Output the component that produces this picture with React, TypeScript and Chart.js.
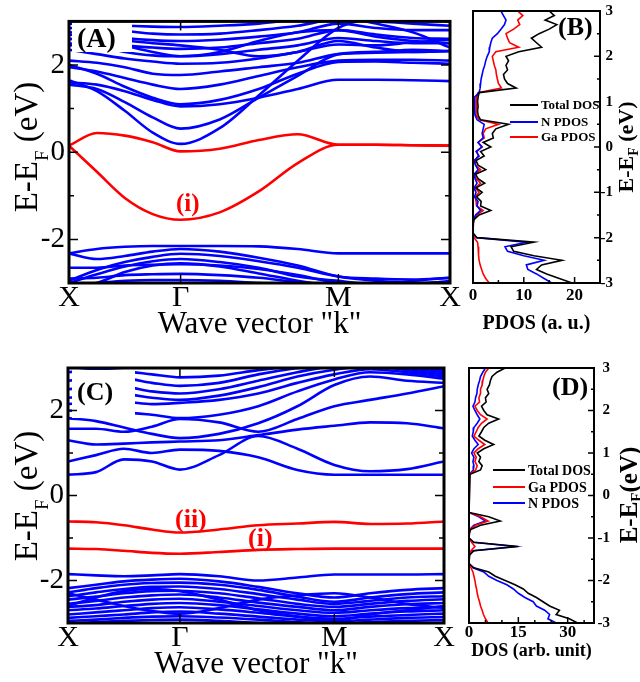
import React, { useEffect, useRef } from "react";
import { Chart, registerables } from "chart.js";

Chart.register(...registerables);

const SERIF = '"Liberation Serif", "Times New Roman", serif';
const BLUE = "#0000ff";
const RED = "#ff0000";
const BLACK = "#000000";

// ---------------- Band structure: common ----------------
const kLabels = ["X", "Γ", "M", "X"];
const bandTickValues = [-2, 0, 2];
const bandMinorTicks = [-3, -1, 1, 3];

// ---------------- Panel A ----------------
const kPathA = [0, 0.25, 0.5, 0.75, 1, 1.35, 1.7, 2.05, 2.414, 2.75, 3.08, 3.414];
const kSymA = [0, 1, 2.414, 3.414];

const redBandsA = [
  [0.15, -0.45, -1.05, -1.42, -1.55, -1.38, -0.9, -0.25, 0.17, 0.17, 0.16, 0.15],
  [0.15, 0.44, 0.38, 0.23, 0.02, 0.08, 0.28, 0.41, 0.17, 0.17, 0.16, 0.15],
];

const blueBandsA = [
  [1.65, 1.4, 0.95, 0.45, 0.19, 0.55, 1.3, 2.1, 2.85, 3.1, 3.2, 3.2],
  [1.55, 1.45, 1.15, 0.8, 0.54, 0.75, 1.25, 1.75, 2.25, 2.3, 2.35, 2.32],
  [1.6, 1.55, 1.4, 1.2, 1.05, 1.1, 1.25, 1.45, 1.66, 1.66, 1.65, 1.63],
  [2.0, 1.8, 1.5, 1.25, 1.1, 1.2, 1.45, 1.8, 2.07, 2.08, 2.05, 2.03],
  [1.95, 1.85, 1.7, 1.55, 1.45, 1.55, 1.75, 1.95, 2.1, 2.12, 2.12, 2.1],
  [2.1, 2.05, 1.95, 1.8, 1.77, 1.85, 1.95, 2.05, 2.25, 2.28, 2.3, 2.32],
  [2.35, 2.25, 2.15, 2.08, 2.03, 2.05, 2.15, 2.3, 2.47, 2.45, 2.52, 2.58],
  [2.5, 2.42, 2.3, 2.22, 2.2, 2.25, 2.35, 2.45, 2.62, 2.55, 2.5, 2.5],
  [2.6, 2.55, 2.45, 2.4, 2.37, 2.4, 2.5, 2.6, 2.8, 2.7, 2.62, 2.6],
  [2.75, 2.7, 2.62, 2.57, 2.55, 2.58, 2.65, 2.75, 2.95, 2.85, 2.8, 2.8],
  [2.85, 2.82, 2.78, 2.72, 2.7, 2.72, 2.8, 2.9, 3.05, 3.0, 2.95, 2.9],
  [2.95, 2.92, 2.9, 2.88, 2.87, 2.9, 2.95, 3.05, 3.1, 2.95, 2.75, 2.4],
  [2.45, 2.5, 2.55, 2.5, 2.45, 2.35, 2.2, 2.3, 2.55, 2.4, 2.3, 2.32],
  [2.7, 2.6, 2.45, 2.3, 2.2, 2.3, 2.55, 2.75, 2.8, 2.65, 2.55, 2.5],
  [-2.32, -2.22, -2.17, -2.15, -2.15, -2.15, -2.16, -2.22, -2.32, -2.32, -2.32, -2.32],
  [-2.32, -2.45, -2.38, -2.28, -2.22, -2.28, -2.42, -2.6, -2.85, -2.9, -2.92, -2.88],
  [-2.95, -2.7, -2.52, -2.4, -2.33, -2.38, -2.5, -2.65, -2.85, -2.95, -3.0, -2.98],
  [-3.0, -2.8, -2.62, -2.5, -2.45, -2.52, -2.65, -2.85, -2.95, -3.05, -3.1, -3.1],
  [-2.65, -2.65, -2.6, -2.58, -2.57, -2.6, -2.68, -2.82, -3.0, -3.05, -2.95, -2.88],
  [-2.9, -2.88, -2.82, -2.8, -2.79, -2.82, -2.88, -2.98, -3.05, -3.1, -3.1, -3.05],
  [-3.05, -3.0, -2.95, -2.93, -2.93, -2.95, -3.0, -3.05, -3.1, -3.1, -3.05, -2.95],
  [-3.1, -3.0, -2.75, -2.6, -2.55, -2.62, -2.78, -2.95, -3.1, -3.2, -3.2, -3.2],
];

// ---------------- Panel C ----------------
const kPathC = [0, 0.25, 0.5, 0.75, 1, 1.35, 1.7, 2.05, 2.38, 2.7, 3.03, 3.36];
const kSymC = [0, 1, 2.38, 3.36];

const redBandsC = [
  [-0.61, -0.63, -0.7, -0.8, -0.87, -0.8, -0.7, -0.66, -0.62, -0.67, -0.66, -0.61],
  [-1.25, -1.26, -1.3, -1.35, -1.37, -1.33, -1.28, -1.26, -1.25, -1.25, -1.25, -1.25],
];

const blueBandsC = [
  [0.49, 0.55, 0.85, 0.8, 0.61, 0.95, 1.4, 1.1, 0.72, 0.57, 0.62, 0.8],
  [0.8, 0.95, 1.1, 1.0, 1.08, 1.05, 0.9, 0.6, 0.49, 0.49, 0.49, 0.49],
  [1.3, 1.2, 1.22, 1.25, 1.27, 1.3, 1.42, 1.55, 1.64, 1.72, 1.7, 1.58],
  [1.57, 1.57, 1.5, 1.62, 1.8, 1.72, 1.5, 1.8, 2.1, 2.25, 2.4, 2.57],
  [1.82, 1.75, 1.6, 1.45, 1.35, 1.45, 1.7, 2.1, 2.6, 2.8, 2.7, 2.65],
  [2.0, 1.95, 1.95, 1.9, 1.82, 1.9, 2.1, 2.45, 2.73, 2.9, 2.85, 2.75],
  [2.15, 2.2, 2.2, 2.15, 2.18, 2.25, 2.4, 2.65, 2.85, 2.97, 2.9, 2.8],
  [2.3, 2.35, 2.38, 2.3, 2.25, 2.35, 2.55, 2.8, 2.96, 3.05, 2.95, 2.85],
  [2.5, 2.55, 2.55, 2.45, 2.4, 2.5, 2.7, 2.9, 3.05, 3.1, 3.0, 2.9],
  [2.7, 2.75, 2.75, 2.65, 2.58, 2.65, 2.85, 3.0, 3.1, 3.1, 3.05, 2.95],
  [2.9, 2.95, 2.92, 2.85, 2.78, 2.82, 2.95, 3.05, 3.1, 3.1, 3.1, 3.05],
  [-1.85, -1.88, -1.9, -1.88, -1.85, -1.9, -2.0, -1.93, -1.86, -1.86, -1.86, -1.85],
  [-2.18, -2.1, -2.02, -1.98, -1.96, -2.02, -2.15, -2.3, -2.4, -2.3, -2.22, -2.18],
  [-2.28, -2.18, -2.1, -2.06, -2.05, -2.1, -2.22, -2.38, -2.5, -2.4, -2.32, -2.28],
  [-2.37, -2.28, -2.2, -2.15, -2.14, -2.2, -2.32, -2.45, -2.55, -2.48, -2.4, -2.37],
  [-2.45, -2.38, -2.3, -2.25, -2.24, -2.3, -2.42, -2.55, -2.62, -2.55, -2.48, -2.44],
  [-2.55, -2.48, -2.4, -2.35, -2.33, -2.4, -2.52, -2.62, -2.7, -2.62, -2.56, -2.53],
  [-2.62, -2.58, -2.5, -2.45, -2.43, -2.5, -2.6, -2.7, -2.76, -2.7, -2.65, -2.62],
  [-2.7, -2.66, -2.6, -2.55, -2.53, -2.58, -2.68, -2.78, -2.84, -2.78, -2.73, -2.7],
  [-2.8, -2.75, -2.7, -2.65, -2.63, -2.68, -2.76, -2.85, -2.9, -2.85, -2.81, -2.78],
  [-2.88, -2.84, -2.8, -2.75, -2.73, -2.78, -2.85, -2.92, -2.96, -2.92, -2.88, -2.86],
  [-2.95, -2.92, -2.88, -2.85, -2.84, -2.87, -2.92, -2.98, -3.02, -2.98, -2.95, -2.93],
  [-3.02, -2.98, -2.95, -2.93, -2.92, -2.95, -3.0, -3.05, -3.08, -3.05, -3.02, -3.0],
  [-2.3, -2.45, -2.6, -2.72, -2.78, -2.65, -2.45, -2.35, -2.3, -2.4, -2.55, -2.65],
  [-2.6, -2.4, -2.25, -2.2, -2.25, -2.45, -2.7, -2.85, -2.95, -2.8, -2.7, -2.6],
];

// ---------------- DOS panels (B, D) ----------------
const energyGrid = [
  3.0, 2.9, 2.8, 2.7, 2.6, 2.5, 2.4, 2.3, 2.2, 2.1,
  2.0, 1.9, 1.8, 1.7, 1.6, 1.5, 1.4, 1.3, 1.2, 1.1,
  1.0, 0.9, 0.8, 0.7, 0.6, 0.5, 0.4, 0.3, 0.2, 0.1,
  0.0, -0.1, -0.2, -0.3, -0.4, -0.5, -0.6, -0.7, -0.8, -0.9,
  -1.0, -1.1, -1.2, -1.3, -1.4, -1.5, -1.6, -1.7, -1.8, -1.9,
  -2.0, -2.1, -2.2, -2.3, -2.4, -2.5, -2.6, -2.7, -2.8, -2.9,
  -3.0,
];

const totalDosB = [
  15.0, 16.0, 14.2, 16.5, 15.0, 13.0, 11.5, 12.5, 13.5, 9.0,
  6.5, 7.0, 6.5, 6.8, 6.0, 6.2, 6.8, 8.5, 1.2, 1.0,
  0.9, 1.0, 0.9, 1.0, 1.5, 7.0, 4.5, 3.8, 4.0, 2.0,
  3.5, 1.5, 2.2, 0.6, 1.0, 2.5, 0.5, 1.0, 2.3, 0.6,
  1.8, 0.7, 1.6, 1.5, 3.5, 1.2, 0.2, 0.0, 0.0, 0.0,
  0.8, 12.0, 7.5, 8.0, 12.0, 17.5, 13.5, 12.5, 14.5, 17.0,
  19.5,
];
const nPdosB = [
  5.5, 6.0, 6.5, 6.2, 5.5, 4.8, 3.8, 3.5, 3.3, 3.2,
  2.8, 2.5, 2.3, 2.0, 1.8, 1.6, 1.5, 1.4, 1.2, 0.3,
  0.3, 0.3, 0.3, 0.4, 0.8, 2.2, 2.0, 1.8, 2.0, 1.0,
  1.8, 0.6, 1.2, 0.2, 0.5, 1.0, 0.2, 0.4, 0.8, 0.2,
  0.6, 0.3, 1.0, 0.8, 1.5, 0.5, 0.1, 0.0, 0.0, 0.0,
  0.7, 10.5, 6.3, 6.8, 10.0, 14.0, 10.5, 10.8, 12.5, 14.0,
  15.5,
];
const gaPdosB = [
  8.8, 9.8, 8.8, 9.2, 8.0, 6.5, 6.8, 7.2, 9.0, 4.5,
  3.8, 4.0, 4.2, 4.5, 4.6, 4.8, 5.0, 5.6, 1.0, 0.7,
  0.6, 0.6, 0.6, 0.6, 1.2, 5.0, 2.5, 2.0, 2.2, 1.0,
  1.7, 0.8, 1.0, 0.4, 0.5, 1.5, 0.3, 0.6, 1.5, 0.4,
  1.2, 0.4, 0.6, 0.7, 2.0, 0.7, 0.1, 0.0, 0.0, 0.0,
  0.2, 0.9, 1.0, 1.1, 1.1, 1.2, 1.4, 1.7, 2.0, 2.5,
  3.2,
];

const totalDosD = [
  11.0, 8.5, 7.0, 6.5, 6.2, 5.5, 6.0, 5.0, 5.2, 3.8,
  4.5, 5.5, 9.0, 6.0, 4.5, 3.8, 3.0, 4.8, 7.5, 4.5,
  2.5, 3.5, 3.0, 4.0, 3.5, 0.3, 0.0, 0.0, 0.0, 0.0,
  0.0, 0.0, 0.0, 0.0, 0.2, 6.0, 9.5, 3.5, 0.5, 0.0,
  0.0, 1.5, 15.0, 1.5, 0.2, 0.0, 0.0, 1.5, 6.0, 8.0,
  11.0, 14.0, 16.5, 18.0, 20.5, 22.5, 24.5, 27.5, 26.5, 30.5,
  33.0,
];
const gaPdosD = [
  6.0, 5.0, 4.5, 4.2, 4.0, 3.5, 3.5, 3.0, 3.2, 1.8,
  2.5, 3.5, 5.5, 3.8, 2.8, 2.2, 1.5, 3.0, 4.8, 2.8,
  1.5, 2.2, 1.8, 2.5, 2.0, 0.2, 0.0, 0.0, 0.0, 0.0,
  0.0, 0.0, 0.0, 0.0, 0.1, 3.5, 5.8, 2.0, 0.3, 0.0,
  0.0, 0.8, 1.8, 0.6, 0.1, 0.0, 0.0, 0.6, 1.2, 1.5,
  1.8, 2.0, 2.3, 2.5, 2.8, 3.2, 3.5, 4.0, 4.4, 5.0,
  5.8,
];
const nPdosD = [
  5.0, 4.2, 3.5, 3.2, 2.8, 2.5, 2.4, 2.0, 1.8, 1.2,
  1.8, 2.5, 3.3, 2.5, 1.5, 1.3, 1.0, 1.8, 2.8, 1.5,
  0.8, 1.5, 1.2, 1.5, 1.3, 0.1, 0.0, 0.0, 0.0, 0.0,
  0.0, 0.0, 0.0, 0.0, 0.1, 3.0, 5.0, 1.5, 0.2, 0.0,
  0.0, 1.2, 14.0, 1.2, 0.1, 0.0, 0.0, 1.2, 4.5, 6.0,
  8.5, 11.5, 13.5, 15.0, 17.0, 19.5, 20.5, 23.0, 24.5, 24.0,
  26.5,
];

const legendLabelsB = ["Total DOS", "N PDOS", "Ga PDOS"];
const legendColorsB = [BLACK, BLUE, RED];
const legendLabelsD = ["Total DOS", "Ga PDOS", "N PDOS"];
const legendColorsD = [BLACK, RED, BLUE];

const dosTicksB = [0, 10, 20];
const dosTicksD = [0, 15, 30];
const energyTicks = [-3, -2, -1, 0, 1, 2, 3];
const energyMinor = [-2.5, -1.5, -0.5, 0.5, 1.5, 2.5];

// ---------------- drawing helpers ----------------
type Seg = { t: string; sub?: boolean };
type TextItem = {
  x: number;
  y: number;
  segs: Seg[];
  size: number;
  bold?: boolean;
  color?: string;
  rot?: number;
  align?: "left" | "center";
  subSize?: number;
  subDrop?: number;
};
type Deco = {
  ox: number;
  oy: number;
  frame: number;
  boxes?: number[][];
  yTicks: { v: number; len: number }[];
  xTicks: { v: number; len: number }[];
  tickLeft: boolean;
  tickRight: boolean;
  tickTop: boolean;
  tickBottom: boolean;
  texts: TextItem[];
  legend?: { x0: number; x1: number; tx: number; size: number; labels: string[]; colors: string[]; ys: number[] };
};

function drawRich(ctx: CanvasRenderingContext2D, it: TextItem, ox: number, oy: number) {
  ctx.save();
  ctx.translate(it.x - ox, it.y - oy);
  if (it.rot) ctx.rotate(it.rot);
  const w = it.bold ? "bold " : "";
  const mainFont = `${w}${it.size}px ${SERIF}`;
  const subFont = `${w}${it.subSize ?? it.size * 0.6}px ${SERIF}`;
  let total = 0;
  const widths = it.segs.map((s) => {
    ctx.font = s.sub ? subFont : mainFont;
    const m = ctx.measureText(s.t).width;
    total += m;
    return m;
  });
  let cx = it.align === "left" ? 0 : -total / 2;
  ctx.fillStyle = it.color ?? BLACK;
  ctx.textBaseline = "alphabetic";
  ctx.textAlign = "left";
  it.segs.forEach((s, i) => {
    ctx.font = s.sub ? subFont : mainFont;
    ctx.fillText(s.t, cx, s.sub ? it.subDrop ?? 0 : 0);
    cx += widths[i];
  });
  ctx.restore();
}

function decoPlugin(d: Deco) {
  return {
    id: "deco",
    afterDatasetsDraw(chart: any) {
      const { ctx, chartArea: a, scales } = chart;
      const xs = scales.x;
      const ys = scales.y;
      ctx.save();
      ctx.fillStyle = "#ffffff";
      (d.boxes || []).forEach((b) => ctx.fillRect(b[0] - d.ox, b[1] - d.oy, b[2], b[3]));
      ctx.strokeStyle = BLACK;
      ctx.lineWidth = 1.5;
      ctx.beginPath();
      d.yTicks.forEach((t) => {
        const py = ys.getPixelForValue(t.v);
        if (d.tickLeft) {
          ctx.moveTo(a.left, py);
          ctx.lineTo(a.left + t.len, py);
        }
        if (d.tickRight) {
          ctx.moveTo(a.right, py);
          ctx.lineTo(a.right - t.len, py);
        }
      });
      d.xTicks.forEach((t) => {
        const px = xs.getPixelForValue(t.v);
        if (d.tickBottom) {
          ctx.moveTo(px, a.bottom);
          ctx.lineTo(px, a.bottom - t.len);
        }
        if (d.tickTop) {
          ctx.moveTo(px, a.top);
          ctx.lineTo(px, a.top + t.len);
        }
      });
      ctx.stroke();
      ctx.lineWidth = d.frame;
      ctx.strokeRect(a.left, a.top, a.right - a.left, a.bottom - a.top);
      if (d.legend) {
        const L = d.legend;
        L.labels.forEach((lab, i) => {
          const y = L.ys[i] - d.oy;
          ctx.strokeStyle = L.colors[i];
          ctx.lineWidth = 2;
          ctx.beginPath();
          ctx.moveTo(L.x0 - d.ox, y);
          ctx.lineTo(L.x1 - d.ox, y);
          ctx.stroke();
          ctx.fillStyle = BLACK;
          ctx.font = `bold ${L.size}px ${SERIF}`;
          ctx.textBaseline = "middle";
          ctx.textAlign = "left";
          ctx.fillText(lab, L.tx - d.ox, y + 1);
        });
      }
      d.texts.forEach((it) => drawRich(ctx, it, d.ox, d.oy));
      ctx.restore();
    },
  };
}

const bandLine = (k: number[], e: number[], color: string) => ({
  data: k.map((x, i) => ({ x, y: e[i] })),
  showLine: true,
  borderColor: color,
  backgroundColor: color,
  borderWidth: 2.6,
  pointRadius: 0,
  cubicInterpolationMode: "monotone",
  clip: 0,
  fill: false,
});

const dosLine = (vals: number[], color: string) => ({
  data: energyGrid.map((e, i) => ({ x: vals[i], y: e })),
  showLine: true,
  borderColor: color,
  backgroundColor: color,
  borderWidth: 1.6,
  pointRadius: 0,
  tension: 0,
  clip: 0,
  fill: false,
});

const noGrid = { display: false, drawTicks: false };

type BandGeo = { padding: any; xHeight: number; yWidth: number; titlePad: number };

function buildBand(canvas: HTMLCanvasElement, k: number[], kSym: number[], red: number[][], blue: number[][], geo: BandGeo, deco: Deco) {
  const datasets: any[] = [...red.map((b) => bandLine(k, b, RED)), ...blue.map((b) => bandLine(k, b, BLUE))];
  return new Chart(canvas, {
    type: "scatter",
    data: { datasets },
    options: {
      animation: false,
      responsive: false,
      devicePixelRatio: 1,
      events: [],
      layout: { padding: geo.padding },
      plugins: { legend: { display: false }, tooltip: { enabled: false } },
      scales: {
        x: {
          type: "linear",
          min: 0,
          max: kSym[kSym.length - 1],
          afterBuildTicks: (s: any) => {
            s.ticks = kSym.map((v) => ({ value: v }));
          },
          afterFit: (s: any) => {
            s.height = geo.xHeight;
          },
          ticks: {
            autoSkip: false,
            maxRotation: 0,
            minRotation: 0,
            padding: 0,
            color: BLACK,
            font: { family: SERIF, size: 30, lineHeight: 1 },
            callback: (_v: any, i: number) => kLabels[i],
          },
          grid: noGrid,
          border: { display: false },
          title: {
            display: true,
            text: 'Wave vector "k"',
            color: BLACK,
            font: { family: SERIF, size: 31, lineHeight: 1 },
            padding: { top: 0, bottom: geo.titlePad },
          },
        },
        y: {
          type: "linear",
          min: -3,
          max: 3,
          afterBuildTicks: (s: any) => {
            s.ticks = bandTickValues.map((v) => ({ value: v }));
          },
          afterFit: (s: any) => {
            s.width = geo.yWidth;
          },
          ticks: { padding: 4, color: BLACK, font: { family: SERIF, size: 29 } },
          grid: noGrid,
          border: { display: false },
        },
      },
    } as any,
    plugins: [decoPlugin(deco)],
  });
}

type DosGeo = { padding: any; xHeight: number; yWidth: number; xMax: number; xStep: number; xLabelPad: number; title: string; titleSize: number; titlePad: number; labelled: number[] };

function buildDos(canvas: HTMLCanvasElement, series: { vals: number[]; color: string }[], geo: DosGeo, deco: Deco) {
  return new Chart(canvas, {
    type: "scatter",
    data: { datasets: series.map((s) => dosLine(s.vals, s.color)) as any },
    options: {
      animation: false,
      responsive: false,
      devicePixelRatio: 1,
      events: [],
      layout: { padding: geo.padding },
      plugins: { legend: { display: false }, tooltip: { enabled: false } },
      scales: {
        x: {
          type: "linear",
          min: 0,
          max: geo.xMax,
          afterFit: (s: any) => {
            s.height = geo.xHeight;
          },
          ticks: {
            stepSize: geo.xStep,
            autoSkip: false,
            maxRotation: 0,
            minRotation: 0,
            padding: geo.xLabelPad,
            color: BLACK,
            font: { family: SERIF, size: 17, weight: "bold", lineHeight: 1 },
            callback: (v: any) => (geo.labelled.includes(v) ? String(v) : ""),
          },
          grid: noGrid,
          border: { display: false },
          title: {
            display: true,
            text: geo.title,
            color: BLACK,
            font: { family: SERIF, size: geo.titleSize, weight: "bold", lineHeight: 1 },
            padding: { top: 0, bottom: geo.titlePad },
          },
        },
        y: {
          type: "linear",
          position: "right",
          min: -3,
          max: 3,
          afterBuildTicks: (s: any) => {
            s.ticks = energyTicks.map((v) => ({ value: v }));
          },
          afterFit: (s: any) => {
            s.width = geo.yWidth;
          },
          ticks: {
            crossAlign: "far",
            padding: 0,
            color: BLACK,
            font: { family: SERIF, size: 15, weight: "bold" },
          },
          grid: noGrid,
          border: { display: false },
        },
      },
    } as any,
    plugins: [decoPlugin(deco)],
  });
}

const yTickMarksBand = [
  ...bandTickValues.map((v) => ({ v, len: 9 })),
  ...bandMinorTicks.map((v) => ({ v, len: 5 })),
];
const yTickMarksDos = [
  ...energyTicks.map((v) => ({ v, len: 6 })),
  ...energyMinor.map((v) => ({ v, len: 3 })),
];

const efTitle = (x: number, y: number, size: number, bold: boolean, subSize: number, subDrop: number, tail: string): TextItem => ({
  x,
  y,
  rot: -Math.PI / 2,
  size,
  bold,
  subSize,
  subDrop,
  segs: [{ t: "E-E" }, { t: "F", sub: true }, { t: tail }],
});

function makeA(c: HTMLCanvasElement) {
  return buildBand(c, kPathA, kSymA, redBandsA, blueBandsA, { padding: { left: 0, top: 11, right: 20, bottom: 0 }, xHeight: 62, yWidth: 69, titlePad: 4.5 }, {
    ox: 0,
    oy: 0,
    frame: 3,
    boxes: [[72, 13, 60, 39]],
    yTicks: yTickMarksBand,
    xTicks: [{ v: kSymA[1], len: 9 }, { v: kSymA[2], len: 9 }],
    tickLeft: true,
    tickRight: true,
    tickTop: true,
    tickBottom: true,
    texts: [
      efTitle(37, 147, 33, false, 19, 11, " (eV)"),
      { x: 77, y: 47, size: 28, bold: true, align: "left", segs: [{ t: "(A)" }] },
      { x: 176, y: 211, size: 25, bold: true, color: RED, align: "left", segs: [{ t: "(i)" }] },
    ],
  });
}

function makeC(c: HTMLCanvasElement) {
  return buildBand(c, kPathC, kSymC, redBandsC, blueBandsC, { padding: { left: 0, top: 28, right: 26, bottom: 0 }, xHeight: 59, yWidth: 68, titlePad: 1.5 }, {
    ox: 0,
    oy: 340,
    frame: 3,
    boxes: [[72, 370, 63, 48]],
    yTicks: yTickMarksBand,
    xTicks: [{ v: kSymC[1], len: 9 }, { v: kSymC[2], len: 9 }],
    tickLeft: true,
    tickRight: true,
    tickTop: true,
    tickBottom: true,
    texts: [
      efTitle(37, 496, 33, false, 19, 11, " (eV)"),
      { x: 77, y: 400, size: 26, bold: true, align: "left", segs: [{ t: "(C)" }] },
      { x: 175, y: 527, size: 26, bold: true, color: RED, align: "left", segs: [{ t: "(ii)" }] },
      { x: 248, y: 546, size: 26, bold: true, color: RED, align: "left", segs: [{ t: "(i)" }] },
    ],
  });
}

function makeB(c: HTMLCanvasElement) {
  return buildDos(
    c,
    [
      { vals: totalDosB, color: BLACK },
      { vals: nPdosB, color: BLUE },
      { vals: gaPdosB, color: RED },
    ],
    { padding: { left: 13, top: 11, right: 27, bottom: 0 }, xHeight: 62, yWidth: 13, xMax: 25, xStep: 5, xLabelPad: 4.5, title: "PDOS (a. u.)", titleSize: 20, titlePad: 11, labelled: dosTicksB },
    {
      ox: 460,
      oy: 0,
      frame: 2,
      yTicks: yTickMarksDos,
      xTicks: [0, 5, 10, 15, 20].map((v) => ({ v, len: dosTicksB.includes(v) ? 6 : 3 })),
      tickLeft: false,
      tickRight: true,
      tickTop: false,
      tickBottom: true,
      legend: { x0: 510, x1: 538, tx: 541, size: 13, labels: legendLabelsB, colors: legendColorsB, ys: [105, 122, 137] },
      texts: [
        efTitle(633, 147, 22, true, 14, 5, " (eV)"),
        { x: 558, y: 35, size: 26, bold: true, align: "left", segs: [{ t: "(B)" }] },
      ],
    }
  );
}

function makeD(c: HTMLCanvasElement) {
  return buildDos(
    c,
    [
      { vals: totalDosD, color: BLACK },
      { vals: gaPdosD, color: RED },
      { vals: nPdosD, color: BLUE },
    ],
    { padding: { left: 9, top: 28, right: 30, bottom: 0 }, xHeight: 59, yWidth: 16, xMax: 38, xStep: 5, xLabelPad: 1.5, title: "DOS (arb. unit)", titleSize: 18, titlePad: 21.5, labelled: dosTicksD },
    {
      ox: 460,
      oy: 340,
      frame: 2,
      yTicks: yTickMarksDos,
      xTicks: [0, 5, 10, 15, 20, 25, 30, 35].map((v) => ({ v, len: dosTicksD.includes(v) ? 6 : 3 })),
      tickLeft: false,
      tickRight: true,
      tickTop: false,
      tickBottom: true,
      legend: { x0: 493, x1: 525, tx: 528, size: 14, labels: legendLabelsD, colors: legendColorsD, ys: [470, 487, 503] },
      texts: [
        efTitle(637, 495, 25, true, 15, 4, "(eV)"),
        { x: 552, y: 395, size: 26, bold: true, align: "left", segs: [{ t: "(D)" }] },
      ],
    }
  );
}

function ChartCanvas(props: { left: number; top: number; width: number; height: number; build: (c: HTMLCanvasElement) => Chart }) {
  const ref = useRef<HTMLCanvasElement>(null);
  const { left, top, width, height, build } = props;
  useEffect(() => {
    const chart = build(ref.current as HTMLCanvasElement);
    return () => chart.destroy();
  }, [build]);
  return <canvas ref={ref} width={width} height={height} style={{ position: "absolute", left, top, width, height }} />;
}

export default function App() {
  return (
    <div style={{ position: "absolute", left: 0, top: 0, width: 640, height: 682, background: "#ffffff", overflow: "hidden" }}>
      <ChartCanvas left={0} top={0} width={470} height={345} build={makeA} />
      <ChartCanvas left={0} top={340} width={470} height={342} build={makeC} />
      <ChartCanvas left={460} top={0} width={180} height={345} build={makeB} />
      <ChartCanvas left={460} top={340} width={180} height={342} build={makeD} />
    </div>
  );
}
